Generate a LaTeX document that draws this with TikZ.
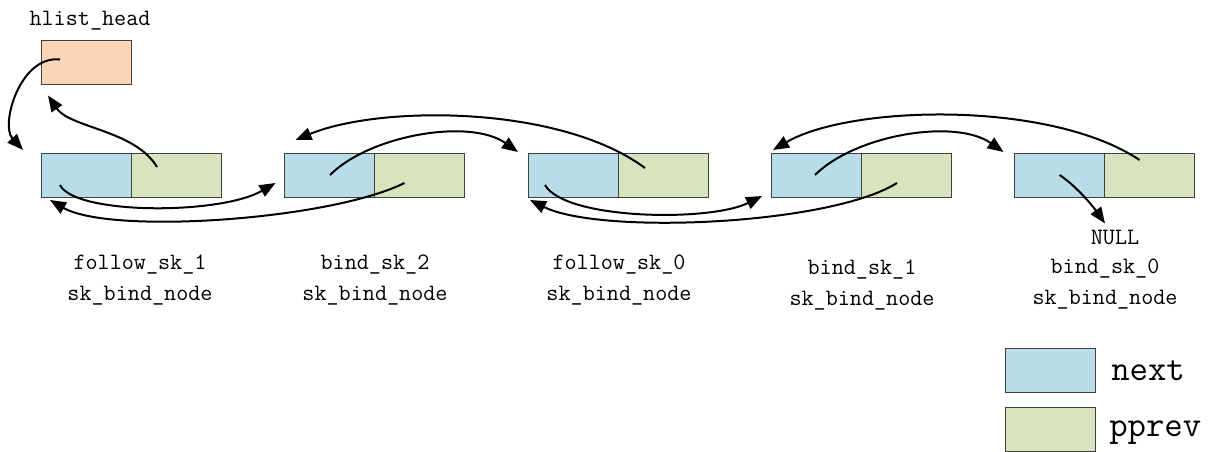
\documentclass[tikz,border=0pt]{standalone}
\usetikzlibrary{arrows.meta,calc}
\definecolor{nextc}{HTML}{B7DDE8}
\definecolor{pprevc}{HTML}{D7E4BD}
\definecolor{headc}{HTML}{FBD5B5}
\definecolor{edgec}{HTML}{404040}
\begin{document}
\begin{tikzpicture}[x=0.75pt,y=-0.75pt,
  cell/.style={draw=edgec,line width=0.6pt,minimum width=67.5pt,minimum height=33pt,inner sep=0pt,outer sep=0pt},
  lbl/.style={font=\fontsize{17.6}{23}\selectfont\ttfamily,align=center,inner sep=0pt},
  leg/.style={font=\fontsize{26.8}{30}\selectfont\ttfamily,anchor=west,inner sep=0pt},
  arr/.style={line width=1.5pt,-{Triangle[length=12pt,width=9.5pt]}}]
\useasboundingbox (0,0) rectangle (1212,452);

% list head
\node[cell,fill=headc] (head) at (86,62.5) {};
\node[lbl] (headlbl) at (90,21) {hlist\_head};

% sk_bind_node entries: next cell and pprev cell
\node[cell,fill=nextc]  (n1) at (86,175) {};
\node[cell,fill=pprevc] (p1) at (176,175) {};
\node[cell,fill=nextc]  (n2) at (329.5,175) {};
\node[cell,fill=pprevc] (p2) at (419.5,175) {};
\node[cell,fill=nextc]  (n3) at (573,175) {};
\node[cell,fill=pprevc] (p3) at (663,175) {};
\node[cell,fill=nextc]  (n4) at (816,175) {};
\node[cell,fill=pprevc] (p4) at (906,175) {};
\node[cell,fill=nextc]  (n5) at (1059.5,175) {};
\node[cell,fill=pprevc] (p5) at (1149.5,175) {};

% entry names
\node[lbl] (t1) at (140,280) {follow\_sk\_1\\sk\_bind\_node};
\node[lbl] (t2) at (375,280) {bind\_sk\_2\\sk\_bind\_node};
\node[lbl] (t3) at (619,280) {follow\_sk\_0\\sk\_bind\_node};
\node[lbl] (t4) at (862,285) {bind\_sk\_1\\sk\_bind\_node};
\node[lbl] (null) at (1115,237) {NULL};
\node[lbl] (t5) at (1105,284) {bind\_sk\_0\\sk\_bind\_node};

% legend
\node[cell,fill=nextc]  (lg1) at (1050.5,370) {};
\node[cell,fill=pprevc] (lg2) at (1050.5,429.5) {};
\node[leg] (lg1t) at (1111,371) {next};
\node[leg] (lg2t) at (1109,433) {pprev};

% head -> first entry
\draw[arr] ($(head.center)+(-26,-3)$) .. controls (20,55) and (0,125) .. ($(n1.north west)+(-18,-3)$);
% pprev pointers
\draw[arr] ($(p1.center)+(-19,-8)$) .. controls (135,130) and (70,128) .. ($(head.south west)+(7,11)$);
\draw[arr] ($(p2.center)+(-15,8)$) .. controls (330,220) and (110,235) .. ($(n1.south west)+(9,3)$);
\draw[arr] ($(p3.center)+(-18,-7)$) .. controls (560,105) and (380,105) .. ($(n2.north west)+(11,-13)$);
\draw[arr] ($(p4.center)+(-9,8)$) .. controls (830,225) and (600,235) .. ($(n3.south west)+(2,3)$);
\draw[arr] ($(p5.center)+(-10,-15)$) .. controls (1050,100) and (850,105) .. ($(n4.north west)+(2,-3)$);
% next pointers
\draw[arr] ($(n1.center)+(-26,10)$) .. controls (75,215) and (220,215) .. ($(n2.west)+(-9,8)$);
\draw[arr] ($(n2.center)+(0.5,0)$) .. controls (370,135) and (470,118) .. ($(n3.north west)+(-10,-1)$);
\draw[arr] ($(n3.center)+(-28,10)$) .. controls (565,220) and (710,222) .. ($(n4.west)+(-9,21)$);
\draw[arr] ($(n4.center)+(-1,0)$) .. controls (855,135) and (955,118) .. ($(n5.north west)+(-11,-1)$);
\draw[arr] (n5.center) .. controls (1075,185) and (1092,205) .. ($(null.north)+(-10,-6)$);
\end{tikzpicture}
\end{document}
